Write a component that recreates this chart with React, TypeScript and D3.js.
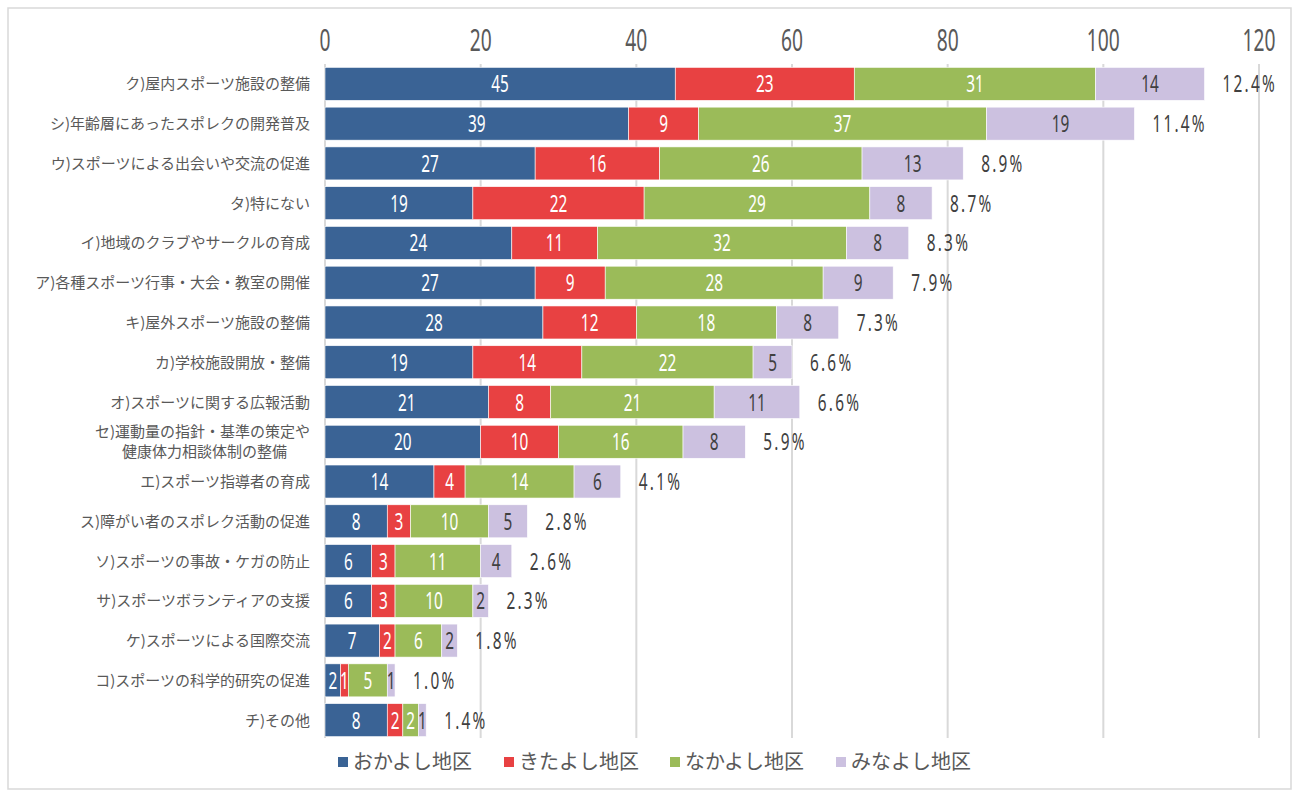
import React from "react";
import * as d3 from "d3";

const categories: string[] = [
  "ク)屋内スポーツ施設の整備",
  "シ)年齢層にあったスポレクの開発普及",
  "ウ)スポーツによる出会いや交流の促進",
  "タ)特にない",
  "イ)地域のクラブやサークルの育成",
  "ア)各種スポーツ行事・大会・教室の開催",
  "キ)屋外スポーツ施設の整備",
  "カ)学校施設開放・整備",
  "オ)スポーツに関する広報活動",
  "セ)運動量の指針・基準の策定や\n健康体力相談体制の整備",
  "エ)スポーツ指導者の育成",
  "ス)障がい者のスポレク活動の促進",
  "ソ)スポーツの事故・ケガの防止",
  "サ)スポーツボランティアの支援",
  "ケ)スポーツによる国際交流",
  "コ)スポーツの科学的研究の促進",
  "チ)その他",
];

const seriesNames: string[] = ["おかよし地区", "きたよし地区", "なかよし地区", "みなよし地区"];

const okayoshi: number[] = [45, 39, 27, 19, 24, 27, 28, 19, 21, 20, 14, 8, 6, 6, 7, 2, 8];
const kitayoshi: number[] = [23, 9, 16, 22, 11, 9, 12, 14, 8, 10, 4, 3, 3, 3, 2, 1, 2];
const nakayoshi: number[] = [31, 37, 26, 29, 32, 28, 18, 22, 21, 16, 14, 10, 11, 10, 6, 5, 2];
const minayoshi: number[] = [14, 19, 13, 8, 8, 9, 8, 5, 11, 8, 6, 5, 4, 2, 2, 1, 1];
const percents: string[] = ["12.4%", "11.4%", "8.9%", "8.7%", "8.3%", "7.9%", "7.3%", "6.6%", "6.6%", "5.9%", "4.1%", "2.8%", "2.6%", "2.3%", "1.8%", "1.0%", "1.4%"];

const xTicks: number[] = [0, 20, 40, 60, 80, 100, 120];

const colors = ["#3A6395", "#E84142", "#9BBB59", "#CCC1E0"];
const labelColors = ["#FFFFFF", "#FFFFFF", "#FFFFFF", "#404040"];

const W = 1294;
const H = 792;
const JP = "'Noto Sans CJK JP', 'Noto Sans', sans-serif";
const NUM = "'Noto Sans', 'Noto Sans CJK JP', sans-serif";

function CText(props: { x: number; y: number; anchor: string; size: number; fill: string; sx?: number; ls?: number; children: React.ReactNode }) {
  const sx = props.sx ?? 0.64;
  return (
    <text
      transform={`translate(${props.x},${props.y}) scale(${sx},1)`}
      textAnchor={props.anchor as any}
      fontSize={props.size}
      fontFamily={NUM}
      fill={props.fill}
      letterSpacing={props.ls ?? 0}
    >
      {props.children}
    </text>
  );
}

export default function App() {
  const x = d3.scaleLinear().domain([0, 120]).range([325, 1259]);
  const y = d3
    .scaleBand<string>()
    .domain(categories)
    .range([64, 740])
    .paddingInner(0.17)
    .paddingOuter(0.085);

  const rows = categories.map((c, i) => ({
    cat: c,
    vals: [okayoshi[i], kitayoshi[i], nakayoshi[i], minayoshi[i]],
    pct: percents[i],
  }));
  const bw = y.bandwidth();

  return (
    <svg width={W} height={H} style={{ position: "absolute", left: 0, top: 0, background: "#fff" }}>
      <rect x={8} y={8} width={1283} height={781} fill="#fff" stroke="#D9D9D9" strokeWidth={1.5} />
      {xTicks.map((t) => (
        <g key={t}>
          <line x1={x(t)} x2={x(t)} y1={64} y2={738} stroke="#D9D9D9" strokeWidth={2} />
          <CText x={x(t)} y={51} anchor="middle" size={30} fill="#595959">
            {t}
          </CText>
        </g>
      ))}
      {rows.map((r) => {
        const y0 = y(r.cat)!;
        const cy = y0 + bw / 2;
        let acc = 0;
        const segs = r.vals.map((v, k) => {
          const s = acc;
          acc += v;
          return { s, e: acc, v, k };
        });
        const lines = r.cat.split("\n");
        return (
          <g key={r.cat}>
            {segs.map((sg) => (
              <rect
                key={sg.k}
                x={x(sg.s)}
                y={y0}
                width={x(sg.e) - x(sg.s)}
                height={bw}
                fill={colors[sg.k]}
                stroke="#fff"
                strokeWidth={0.6}
              />
            ))}
            {segs.map((sg) => (
              <CText
                key={"l" + sg.k}
                x={(x(sg.s) + x(sg.e)) / 2}
                y={cy + 8.5}
                anchor="middle"
                size={24}
                fill={labelColors[sg.k]}
              >
                {sg.v}
              </CText>
            ))}
            <CText x={x(acc) + 18} y={cy + 8.5} anchor="start" size={24} fill="#404040" ls={3.5}>
              {r.pct}
            </CText>
            {lines.map((ln, li) => (
              <text
                key={li}
                x={lines.length > 1 && li === 1 ? 287 : 310}
                y={cy + 5.5 + (li - (lines.length - 1) / 2) * 20}
                textAnchor={lines.length > 1 && li === 1 ? "end" : "end"}
                fontSize={15}
                fontFamily={JP}
                fill="#595959"
              >
                {ln}
              </text>
            ))}
          </g>
        );
      })}
      {seriesNames.map((n, i) => (
        <g key={n} transform={`translate(${338 + i * 166},757)`}>
          <rect x={0} y={0} width={10} height={10} fill={colors[i]} />
          <text x={15} y={12} fontSize={20} fontFamily={JP} fill="#595959">
            {n}
          </text>
        </g>
      ))}
    </svg>
  );
}
